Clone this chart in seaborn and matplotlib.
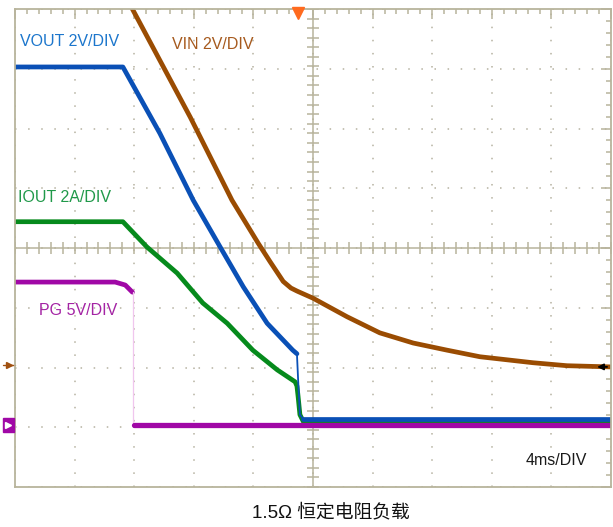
import matplotlib
matplotlib.use("Agg")
import matplotlib.pyplot as plt
import seaborn as sns
import numpy as np
from matplotlib.ticker import MultipleLocator
from matplotlib.patches import Rectangle

# --- scope screen in divisions: x 0..10 (4 ms/div), y 0..8 ---
# VOUT (2 V/div)
vout_x = [0.00, 1.81, 2.43, 2.99, 3.44, 3.83, 4.23, 4.66, 4.73]
vout_y = [7.03, 7.03, 5.92, 4.80, 4.02, 3.35, 2.74, 2.29, 2.23]
vout_drop_x = [4.73, 4.75, 4.78, 4.84]
vout_drop_y = [2.23, 1.79, 1.21, 1.13]
vout_low_x = [4.84, 10.00]
vout_low_y = [1.13, 1.13]

# VIN (2 V/div)
vin_x = [1.85, 1.98, 2.94, 3.64, 4.08, 4.28, 4.50, 4.63, 4.73, 5.00, 5.57, 6.12,
         6.68, 7.25, 7.80, 8.69, 9.26, 10.00]
vin_y = [8.23, 7.98, 6.19, 4.80, 4.08, 3.77, 3.44, 3.33, 3.28, 3.16, 2.85, 2.58,
         2.41, 2.29, 2.18, 2.08, 2.03, 2.01]

# IOUT (2 A/div)
iout_x = [0.00, 1.81, 2.21, 2.72, 3.15, 3.56, 3.99, 4.40, 4.70, 4.73, 4.75,
          4.78, 4.85, 10.00]
iout_y = [4.44, 4.44, 4.02, 3.58, 3.08, 2.74, 2.29, 1.96, 1.76, 1.69, 1.51,
          1.21, 1.07, 1.07]

# PG (5 V/div)
pg_x = [0.00, 1.68, 1.85, 1.97]
pg_y = [3.43, 3.43, 3.38, 3.26]
pg_drop_x = [1.98, 1.98]
pg_drop_y = [3.26, 1.03]
pg_low_x = [2.00, 10.00]
pg_low_y = [1.03, 1.03]

labels = ["VOUT 2V/DIV", "VIN 2V/DIV", "IOUT 2A/DIV", "PG 5V/DIV"]
label_x = [0.08, 2.63, 0.05, 0.40]
label_y = [7.45, 7.41, 4.85, 2.95]

c_vout, c_vin, c_iout, c_pg = "#0a50b6", "#9a4c02", "#068a1c", "#a008a6"
c_lab = ["#1c76cc", "#a65a1e", "#20994a", "#a424a4"]
frame = "#b8b49c"

sns.set_style("white")
plt.rcParams['font.family'] = ['Liberation Sans', 'Noto Sans CJK SC', 'DejaVu Sans']

fig = plt.figure(figsize=(6.13, 5.27), dpi=100)
ax = fig.add_axes([0.0245, 0.0759, 0.9723, 0.907])
ax.set_xlim(0, 10)
ax.set_ylim(0, 8)

# graticule
for s in ax.spines.values():
    s.set_color(frame)
    s.set_linewidth(1.3)
ax.xaxis.set_major_locator(MultipleLocator(1))
ax.yaxis.set_major_locator(MultipleLocator(1))
ax.xaxis.set_minor_locator(MultipleLocator(0.2))
ax.yaxis.set_minor_locator(MultipleLocator(0.2))
ax.tick_params(which='both', direction='in', top=True, right=True, color=frame,
               width=1.1, labelbottom=False, labelleft=False)
ax.tick_params(which='major', length=7)
ax.tick_params(which='minor', length=3.6)
ax.grid(True, which='major', color="#b5b1a0", linestyle=(0, (1, 7.58)), linewidth=1.1)
ax.set_axisbelow(True)
ax.axvline(5, color=frame, lw=1.1, zorder=1)
ax.axhline(4, color=frame, lw=1.1, zorder=1)
cross = np.arange(0, 10.01, 0.2)
ax.plot(np.full(len(cross), 5), cross * 0.8, ls='none', marker='_', ms=8,
        mew=1.1, color=frame, zorder=1)
ax.plot(cross, np.full(len(cross), 4), ls='none', marker='|', ms=8,
        mew=1.1, color=frame, zorder=1)

# traces
lw = 3.4
sns.lineplot(x=iout_x, y=iout_y, sort=False, estimator=None, color=c_iout, linewidth=lw, ax=ax)
sns.lineplot(x=vout_x, y=vout_y, sort=False, estimator=None, color=c_vout, linewidth=lw, ax=ax)
sns.lineplot(x=vout_drop_x, y=vout_drop_y, sort=False, estimator=None, color=c_vout, linewidth=1.3, ax=ax)
sns.lineplot(x=vout_low_x, y=vout_low_y, sort=False, estimator=None, color=c_vout, linewidth=lw, ax=ax)
sns.lineplot(x=pg_x, y=pg_y, sort=False, estimator=None, color=c_pg, linewidth=lw, ax=ax)
sns.lineplot(x=pg_drop_x, y=pg_drop_y, sort=False, estimator=None, color="#f0c6ee", linewidth=0.9, ax=ax)
sns.lineplot(x=pg_low_x, y=pg_low_y, sort=False, estimator=None, color=c_pg, linewidth=3.8, ax=ax)
sns.lineplot(x=vin_x, y=vin_y, sort=False, estimator=None, color=c_vin, linewidth=lw, ax=ax)
ax.set_xlabel('')
ax.set_ylabel('')

for t, x, y, c in zip(labels, label_x, label_y, c_lab):
    ax.text(x, y, t, color=c, fontsize=11.5, va='center', ha='left')
ax.text(8.57, 0.45, "4ms/DIV", color="#1a1a1a", fontsize=11.5, va='center', ha='left')

# scope markers
ax.plot([4.75], [7.93], marker='v', ms=8, color="#ff6a1e", clip_on=False, zorder=5)
ax.plot([-0.2, 0.0], [2.04, 2.04], color="#a05010", lw=1.0, clip_on=False)
ax.plot([-0.1], [2.04], marker='>', ms=5, color="#a05010", clip_on=False)
ax.add_patch(Rectangle((-0.2, 0.92), 0.18, 0.235, color=c_pg, clip_on=False, zorder=5))
ax.plot([-0.11], [1.04], marker='>', ms=4, color="white", clip_on=False, zorder=6)
ax.annotate("", xy=(9.72, 2.01), xytext=(9.98, 2.01),
            arrowprops=dict(arrowstyle="-|>", color="black", lw=1.3, mutation_scale=9),
            zorder=6)

fig.text(0.54, 0.028, "1.5\u03a9 恒定电阻负载", ha='center', va='center', fontsize=13.5,
         color="#111111")

fig.savefig("out.png", dpi=100)
